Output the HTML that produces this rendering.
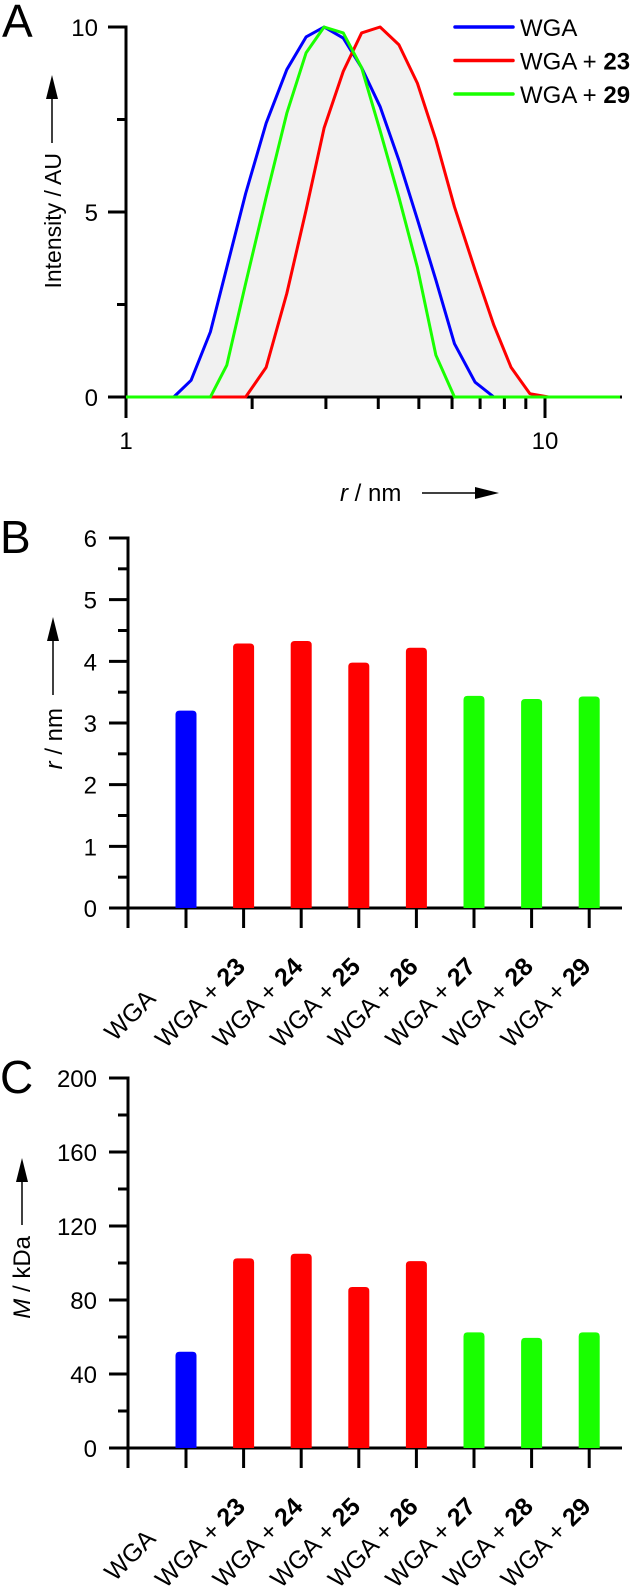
<!DOCTYPE html>
<html><head><meta charset="utf-8"><style>
html,body{margin:0;padding:0;background:#fff;}
svg{display:block;font-family:"Liberation Sans",Arial,sans-serif;}
</style></head><body>
<svg id="fig" width="644" height="1595" viewBox="0 0 644 1595" xmlns="http://www.w3.org/2000/svg">
<text x="2" y="37" font-size="46">A</text>
<text x="0" y="553" font-size="46">B</text>
<text x="0" y="1093" font-size="46">C</text>
<g id="pa"></g>
<g id="pb"></g>
<g id="pc"></g>
</svg>
<script>
// ---- Panel A data ----
const rBins=[1.30,1.43,1.59,1.74,1.93,2.16,2.42,2.69,2.97,3.30,3.65,4.04,4.48,4.96,5.49,6.08,6.81,7.55,8.3,9.2,10.2];
const wgaIntensity=[0,0.45,1.76,3.5,5.5,7.4,8.85,9.73,10,9.7,8.9,7.85,6.4,4.8,3.16,1.44,0.4,0,0,0,0];
const wga23Intensity=[0,0,0,0,0,0.8,2.8,5.05,7.27,8.8,9.84,10,9.52,8.48,6.95,5.14,3.43,1.94,0.8,0.09,0];
const wga29Intensity=[0,0,0,0.86,3.07,5.4,7.67,9.3,10,9.84,8.9,7.2,5.4,3.5,1.13,0,0,0,0,0,0];
const aYTicks=[0,5,10];
const aXTickLabels=[1,10];
// ---- Panels B/C data ----
const categories=["","23","24","25","26","27","28","29"];
const radiusValues=[3.2,4.29,4.33,3.98,4.22,3.44,3.39,3.43];
const massValues=[52,102.5,105,87,101,62.5,59.5,62.5];
const barGroups=["wga","red","red","red","red","green","green","green"];
const bYTicks=[0,1,2,3,4,5,6];
const cYTicks=[0,40,80,120,160,200];

const NS="http://www.w3.org/2000/svg";
const COL={wga:"#0000ff",red:"#ff0000",green:"#19ff00"};
function mk(tag,attrs,parent,txt){const e=document.createElementNS(NS,tag);for(const k in attrs)e.setAttribute(k,attrs[k]);if(txt!==undefined)e.textContent=txt;parent.appendChild(e);return e;}

// ===== Panel A =====
const pa=document.getElementById('pa');
const ax0=126, axDec=419, ay0=397, ayTop=27;
const xA=r=>ax0+Math.log10(r)*axDec;
const yA=v=>ay0-(v/10)*(ay0-ayTop);
const xEnd=620;
function seriesPts(vals){const p=[[ax0,yA(0)]];rBins.forEach((r,i)=>p.push([xA(r),yA(vals[i])]));p.push([xEnd,yA(0)]);return p;}
const series=[["wga",wgaIntensity,"wga-curve"],["red",wga23Intensity,"wga-23-curve"],["green",wga29Intensity,"wga-29-curve"]];
series.forEach(s=>{const p=seriesPts(s[1]);const f=mk('polygon',{points:p.map(q=>q.join(',')).join(' '),fill:"#f1f1f1",stroke:"none"},pa);

});
let e=mk('line',{x1:108,y1:ay0,x2:622,y2:ay0,stroke:"#000","stroke-width":3},pa);


e=mk('line',{x1:ax0,y1:ayTop-1.5,x2:ax0,y2:418,stroke:"#000","stroke-width":3},pa);


aYTicks.forEach(v=>{const y=yA(v);mk('line',{x1:108,y1:y,x2:ax0,y2:y,stroke:"#000","stroke-width":3},pa);
const t=mk('text',{x:98,y:y+9,"font-size":24,"text-anchor":"end"},pa,String(v));

});
[2.5,7.5].forEach(v=>{const y=yA(v);mk('line',{x1:117,y1:y,x2:ax0,y2:y,stroke:"#000","stroke-width":3},pa);});
[2,3,4,5,6,7,8,9].forEach(m=>{const x=xA(m);mk('line',{x1:x,y1:ay0,x2:x,y2:409,stroke:"#000","stroke-width":3},pa);});
aXTickLabels.forEach(v=>{const x=xA(v);mk('line',{x1:x,y1:ay0,x2:x,y2:418,stroke:"#000","stroke-width":3},pa);
const t=mk('text',{x:x,y:449,"font-size":24,"text-anchor":"middle"},pa,String(v));

});
series.forEach(s=>{const p=seriesPts(s[1]);const l=mk('polyline',{points:p.map(q=>q.join(',')).join(' '),fill:"none",stroke:COL[s[0]],"stroke-width":3,"stroke-linejoin":"round"},pa);

});
const legend=[["wga","WGA",""],["red","WGA + ","23"],["green","WGA + ","29"]];
legend.forEach((L,i)=>{const y=27+i*33.5;const g=mk('g',{},pa);


mk('line',{x1:455,y1:y,x2:513,y2:y,stroke:COL[L[0]],"stroke-width":3.5,"stroke-linecap":"round"},g);
const t=mk('text',{x:520,y:y+9,"font-size":24},g,L[1]);if(L[2])mk('tspan',{"font-weight":"bold"},t,L[2]);});
e=mk('text',{x:0,y:0,"font-size":23,"text-anchor":"end",transform:"translate(61,153) rotate(-90)"},pa,"Intensity / AU");


mk('line',{x1:52,y1:143,x2:52,y2:92,stroke:"#000","stroke-width":1.5},pa);
mk('polygon',{points:"52,75 46,99 58,99",fill:"#000"},pa);
e=mk('text',{x:340,y:501,"font-size":24},pa);
mk('tspan',{"font-style":"italic"},e,"r");e.appendChild(document.createTextNode(" / nm"));


mk('line',{x1:422,y1:493,x2:480,y2:493,stroke:"#000","stroke-width":1.5},pa);
mk('polygon',{points:"499,493 475,487 475,499",fill:"#000"},pa);

// ===== Bar panels =====
function barPanel(g,vals,ticks,minorStep,yTop,yZero,vmax,prefix){
  const ys=v=>yZero-(v/vmax)*(yZero-yTop);
  const xs=i=>186+i*57.6;
  let a=mk('line',{x1:109,y1:yZero,x2:622,y2:yZero,stroke:"#000","stroke-width":3},g);
  
  
  a=mk('line',{x1:128,y1:yTop-1.5,x2:128,y2:yZero+20,stroke:"#000","stroke-width":3},g);
  
  
  ticks.forEach(v=>{const y=ys(v);mk('line',{x1:109,y1:y,x2:128,y2:y,stroke:"#000","stroke-width":3},g);
    const t=mk('text',{x:97,y:y+9,"font-size":24,"text-anchor":"end"},g,String(v));
    
    
    if(v+minorStep<vmax){const y2=ys(v+minorStep);mk('line',{x1:118,y1:y2,x2:128,y2:y2,stroke:"#000","stroke-width":3},g);}});
  vals.forEach((v,i)=>{const x=xs(i);const top=ys(v);
    const b=mk('path',{d:`M${x-10.5},${yZero} L${x-10.5},${top+4} Q${x-10.5},${top} ${x-6.5},${top} L${x+6.5},${top} Q${x+10.5},${top} ${x+10.5},${top+4} L${x+10.5},${yZero} Z`,fill:COL[barGroups[i]]},g);
    
    
    mk('line',{x1:x,y1:yZero,x2:x,y2:yZero+20,stroke:"#000","stroke-width":3},g);
    let lx,ly;
    if(categories[i]===""){lx=x-29;ly=yZero+92;}else{lx=x+3;ly=yZero+60;}
    const t=mk('text',{x:0,y:0,"font-size":25,"text-anchor":"end",transform:`translate(${lx},${ly}) rotate(-45)`},g,"WGA");
    if(categories[i]!==""){t.appendChild(document.createTextNode(" + "));mk('tspan',{"font-weight":"bold"},t,categories[i]);}
    
    
  });
  return ys;
}
const pb=document.getElementById('pb');
barPanel(pb,radiusValues,bYTicks,0.5,538,908,6,'b');
e=mk('text',{x:0,y:0,"font-size":24,"text-anchor":"end",transform:"translate(62,708) rotate(-90)"},pb);
mk('tspan',{"font-style":"italic"},e,"r");e.appendChild(document.createTextNode(" / nm"));


mk('line',{x1:53,y1:695,x2:53,y2:635,stroke:"#000","stroke-width":1.5},pb);
mk('polygon',{points:"53,617 47,641 59,641",fill:"#000"},pb);

const pc=document.getElementById('pc');
barPanel(pc,massValues,cYTicks,20,1078,1448,200,'c');
e=mk('text',{x:0,y:0,"font-size":24,"text-anchor":"end",transform:"translate(30,1236) rotate(-90)"},pc);
mk('tspan',{"font-style":"italic"},e,"M");e.appendChild(document.createTextNode(" / kDa"));


mk('line',{x1:22,y1:1225,x2:22,y2:1175,stroke:"#000","stroke-width":1.5},pc);
mk('polygon',{points:"22,1158 16,1182 28,1182",fill:"#000"},pc);
</script>
</body></html>
